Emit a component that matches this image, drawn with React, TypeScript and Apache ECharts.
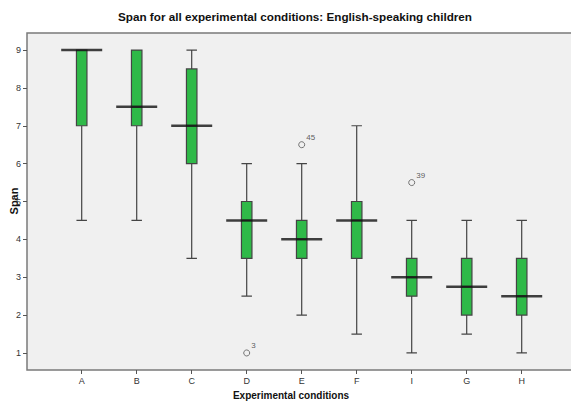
import React, { useEffect, useRef } from "react";
import * as echarts from "echarts";

const categories = ["A", "B", "C", "D", "E", "F", "I", "G", "H"];
// [lower whisker, Q1, median, Q3, upper whisker]
const boxValues = [
  [4.5, 7, 9, 9, 9],
  [4.5, 7, 7.5, 9, 9],
  [3.5, 6, 7, 8.5, 9],
  [2.5, 3.5, 4.5, 5, 6],
  [2, 3.5, 4, 4.5, 6],
  [1.5, 3.5, 4.5, 5, 7],
  [1, 2.5, 3, 3.5, 4.5],
  [1.5, 2, 2.75, 3.5, 4.5],
  [1, 2, 2.5, 3.5, 4.5],
];
const medians = [9, 7.5, 7, 4.5, 4, 4.5, 3, 2.75, 2.5];
const outlierCats = ["D", "E", "I"];
const outlierValues = [1, 6.5, 5.5];
const outlierLabels = ["3", "45", "39"];
const yTicks = [1, 2, 3, 4, 5, 6, 7, 8, 9];

const FONT = "'Liberation Sans', Arial, sans-serif";

export default function App() {
  const ref = useRef<HTMLDivElement>(null);
  useEffect(() => {
    document.body.style.margin = "0";
    if (!ref.current) return;
    const chart = echarts.init(ref.current, null, { renderer: "svg" });
    const option: any = {
      animation: false,
      backgroundColor: "#ffffff",
      textStyle: { fontFamily: FONT },
      title: {
        text: "Span for all experimental conditions: English-speaking children",
        left: 290,
        top: 5,
        textAlign: "center",
        textStyle: { fontFamily: FONT, fontSize: 11.7, fontWeight: "bold", color: "#111" },
      },
      graphic: [
        {
          type: "rect",
          z: -10,
          silent: true,
          shape: { x: 27, y: 33, width: 560, height: 337 },
          style: { fill: "#f0f0f0", stroke: "#7a7a7a", lineWidth: 1.5 },
        },
        {
          type: "text",
          x: 14,
          y: 201,
          rotation: Math.PI / 2,
          style: {
            text: "Span",
            font: "bold 11px " + FONT,
            fill: "#111",
            textAlign: "center",
            textVerticalAlign: "middle",
          },
        },
        {
          type: "text",
          x: 291,
          y: 395,
          style: {
            text: "Experimental conditions",
            font: "bold 10px " + FONT,
            fill: "#111",
            textAlign: "center",
            textVerticalAlign: "middle",
          },
        },
      ],
      grid: { left: 54.2, right: 21.8, top: 33, bottom: 35 },
      xAxis: {
        type: "category",
        data: categories,
        boundaryGap: true,
        axisLine: { show: false },
        axisTick: { show: true, alignWithLabel: true, length: 4, lineStyle: { color: "#555" } },
        axisLabel: { margin: 6, fontSize: 9, color: "#333", fontFamily: FONT },
        splitLine: { show: false },
      },
      yAxis: {
        type: "value",
        min: 0.55,
        max: 9.45,
        offset: 27.2,
        axisLine: { show: false },
        axisTick: { show: true, length: 4, lineStyle: { color: "#555" }, customValues: yTicks },
        axisLabel: { margin: 6, fontSize: 9, color: "#333", fontFamily: FONT, customValues: yTicks },
        splitLine: { show: false },
      },
      series: [
        {
          type: "boxplot",
          data: boxValues,
          boxWidth: [10.5, 10.5],
          itemStyle: { color: "#2fb948", borderColor: "#444", borderWidth: 1.2 },
          z: 3,
        },
        {
          type: "scatter",
          data: categories.map((c, i) => [c, medians[i]]),
          symbol: "rect",
          symbolSize: [41, 2.5],
          itemStyle: { color: "#111" },
          z: 4,
        },
        {
          type: "scatter",
          data: outlierCats.map((c, i) => ({ value: [c, outlierValues[i]], name: outlierLabels[i] })),
          symbol: "circle",
          symbolSize: 6,
          itemStyle: { color: "#f0f0f0", borderColor: "#555", borderWidth: 1 },
          label: {
            show: true,
            position: "right",
            distance: 1,
            offset: [0, -7],
            formatter: (p: any) => p.name,
            fontSize: 8,
            color: "#333",
            fontFamily: FONT,
          },
          z: 5,
        },
      ],
    };
    chart.setOption(option);
    return () => chart.dispose();
  }, []);
  return <div ref={ref} style={{ width: 571, height: 405 }} />;
}
